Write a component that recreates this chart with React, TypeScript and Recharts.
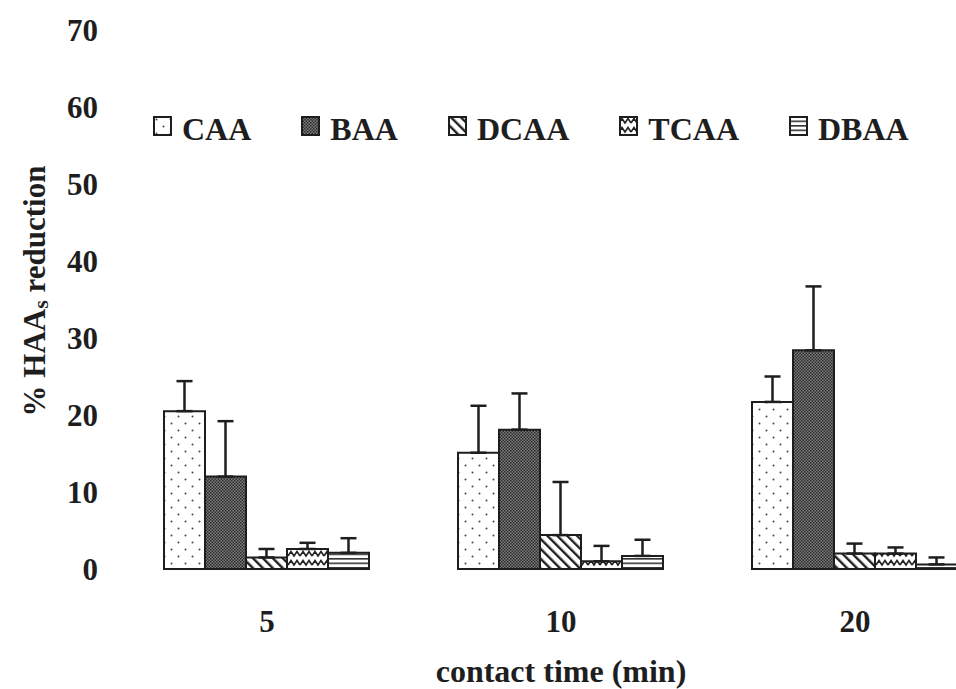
import React from 'react';
import { BarChart, Bar, XAxis, YAxis, ErrorBar } from 'recharts';

const categories = ['5', '10', '20'];
const seriesNames = ['CAA', 'BAA', 'DCAA', 'TCAA', 'DBAA'];
const caaValues = [20.5, 15.1, 21.7];
const caaErrors = [3.9, 6.1, 3.3];
const baaValues = [12.0, 18.1, 28.4];
const baaErrors = [7.2, 4.7, 8.3];
const dcaaValues = [1.5, 4.4, 2.0];
const dcaaErrors = [1.1, 6.9, 1.3];
const tcaaValues = [2.6, 1.0, 2.0];
const tcaaErrors = [0.8, 2.0, 0.8];
const dbaaValues = [2.1, 1.7, 0.6];
const dbaaErrors = [1.9, 2.1, 0.9];
const yTicks = [0, 10, 20, 30, 40, 50, 60, 70];
const xTitle = 'contact time (min)';

const valuesBySeries: Record<string, number[]> = {
  CAA: caaValues, BAA: baaValues, DCAA: dcaaValues, TCAA: tcaaValues, DBAA: dbaaValues,
};
const errorsBySeries: Record<string, number[]> = {
  CAA: caaErrors, BAA: baaErrors, DCAA: dcaaErrors, TCAA: tcaaErrors, DBAA: dbaaErrors,
};

const data = categories.map((c, i) => {
  const row: any = { time: c };
  seriesNames.forEach((s) => {
    row[s] = valuesBySeries[s][i];
    row[s + 'Err'] = [0, errorsBySeries[s][i]];
  });
  return row;
});

const FONT = '"Liberation Serif", "Times New Roman", serif';
const INK = '#1e1e1e';

const Patterns = () => (
  <svg width={0} height={0} style={{ position: 'absolute' }}>
    <defs>
      <pattern id="pat-CAA" width={14} height={14} patternUnits="userSpaceOnUse">
        <rect width={14} height={14} fill="#fff" />
        <circle cx={3.5} cy={3.5} r={1} fill="#444" />
        <circle cx={10.5} cy={10.5} r={1} fill="#444" />
      </pattern>
      <pattern id="pat-BAA" width={3} height={3} patternUnits="userSpaceOnUse">
        <rect width={3} height={3} fill="#7a7a7a" />
        <rect x={0} y={0} width={1.5} height={1.5} fill="#2e2e2e" />
        <rect x={1.5} y={1.5} width={1.5} height={1.5} fill="#2e2e2e" />
      </pattern>
      <pattern id="pat-DCAA" width={7} height={7} patternUnits="userSpaceOnUse" patternTransform="rotate(-45)">
        <rect width={7} height={7} fill="#fff" />
        <rect x={0} y={0} width={2.4} height={7} fill="#222" />
      </pattern>
      <pattern id="pat-TCAA" width={12} height={9} patternUnits="userSpaceOnUse">
        <rect width={12} height={9} fill="#fff" />
        <path d="M0,7 L3,2.5 L6,7 L9,2.5 L12,7" stroke="#222" strokeWidth={1.6} fill="none" />
      </pattern>
      <pattern id="pat-DBAA" width={6} height={4.5} patternUnits="userSpaceOnUse">
        <rect width={6} height={4.5} fill="#fff" />
        <rect x={0} y={0} width={6} height={1.6} fill="#333" />
      </pattern>
    </defs>
  </svg>
);

const renderYTitle = () => (
  <text
    x={45}
    y={291}
    transform="rotate(-90, 45, 291)"
    textAnchor="middle"
    fontFamily={FONT}
    fontWeight="bold"
    fontSize={31}
    fill={INK}
  >
    % HAA<tspan fontSize={22} dy={3}>s</tspan>
    <tspan dy={-3}> reduction</tspan>
  </text>
);

const Legend = () => (
  <div
    style={{
      position: 'absolute',
      left: 153,
      top: 113,
      display: 'flex',
      gap: 50,
      fontFamily: FONT,
      fontWeight: 'bold',
      fontSize: 32,
      lineHeight: '32px',
      color: INK,
      whiteSpace: 'nowrap',
    }}
  >
    {seriesNames.map((s) => (
      <div key={s} style={{ display: 'flex', alignItems: 'flex-start' }}>
        <svg width={19} height={20} style={{ marginTop: 3, marginRight: 10 }}>
          <rect x={1} y={1} width={17} height={18} fill={`url(#pat-${s})`} stroke={INK} strokeWidth={2} />
        </svg>
        <span>{s}</span>
      </div>
    ))}
  </div>
);

export default function App() {
  return (
    <div
      style={{
        position: 'absolute',
        left: 0,
        top: 0,
        width: 956,
        height: 689,
        overflow: 'hidden',
        background: '#fff',
      }}
    >
      <Patterns />
      <BarChart
        width={1010}
        height={689}
        data={data}
        margin={{ top: 30, right: 8, left: 0, bottom: 0 }}
        barCategoryGap={44}
        barGap={0}
      >
        <XAxis
          dataKey="time"
          height={120}
          axisLine={false}
          tickLine={false}
          tickSize={0}
          tickMargin={41}
          tick={{ fontFamily: FONT, fontWeight: 'bold', fontSize: 31, fill: INK }}
          label={{
            value: xTitle,
            position: 'insideBottom',
            offset: 7,
            style: { fontFamily: FONT, fontWeight: 'bold', fontSize: 32, fill: INK },
          }}
        />
        <YAxis
          width={120}
          domain={[0, 70]}
          ticks={yTicks}
          interval={0}
          axisLine={false}
          tickLine={false}
          tickSize={0}
          tickMargin={22}
          tick={{ fontFamily: FONT, fontWeight: 'bold', fontSize: 31, fill: INK }}
          label={renderYTitle}
        />
        {seriesNames.map((s) => (
          <Bar
            key={s}
            dataKey={s}
            fill={`url(#pat-${s})`}
            stroke={INK}
            strokeWidth={2}
            isAnimationActive={false}
          >
            <ErrorBar dataKey={s + 'Err'} direction="y" width={8} stroke={INK} strokeWidth={2.5} />
          </Bar>
        ))}
      </BarChart>
      <Legend />
    </div>
  );
}
